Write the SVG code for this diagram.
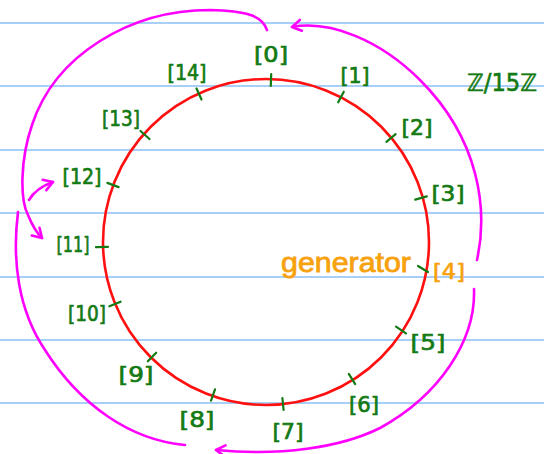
<svg xmlns="http://www.w3.org/2000/svg" width="544" height="454" viewBox="0 0 544 454">
<style>
.rule{stroke:#a8cff7;stroke-width:2}
.ring{fill:none;stroke:#ff1010;stroke-width:2.6}
.tick{stroke:#137a13;stroke-width:2.2;stroke-linecap:round}
.lbl{font-family:"DejaVu Sans",sans-serif;font-size:22px;fill:#137a13;stroke:#137a13;stroke-width:0.7;text-anchor:middle;dominant-baseline:central}
.orb{fill:none;stroke:#ff00ff;stroke-width:2.6;stroke-linecap:round}
.org{fill:#f7a10d;stroke:#f7a10d}
</style>
<defs>
<marker id="ah" markerUnits="userSpaceOnUse" viewBox="-12 -8 14 16" refX="0" refY="0" markerWidth="14" markerHeight="16" orient="auto" overflow="visible">
<path d="M-9,-5.5 L0,0 L-9,5.5" fill="none" stroke="#ff00ff" stroke-width="2.6" stroke-linecap="round" stroke-linejoin="round"/>
</marker>
</defs>
<rect width="544" height="454" fill="#ffffff"/>
<g id="rules">
<line class="rule" x1="0" y1="23" x2="544" y2="23"/>
<line class="rule" x1="0" y1="86" x2="544" y2="86"/>
<line class="rule" x1="0" y1="150" x2="544" y2="150"/>
<line class="rule" x1="0" y1="213" x2="544" y2="213"/>
<line class="rule" x1="0" y1="277" x2="544" y2="277"/>
<line class="rule" x1="0" y1="340" x2="544" y2="340"/>
<line class="rule" x1="0" y1="403" x2="544" y2="403"/>
</g>
<g id="ring">
<circle class="ring" cx="266" cy="242" r="163"/>
</g>
<g id="n0"><line class="tick" x1="271.2" y1="74" x2="270.8" y2="86"/><text class="lbl" x="271" y="54" textLength="34" lengthAdjust="spacingAndGlyphs">[0]</text></g>
<g id="n1"><line class="tick" x1="343.8" y1="91.7" x2="338.2" y2="102.3"/><text class="lbl" x="355" y="75" textLength="29" lengthAdjust="spacingAndGlyphs">[1]</text></g>
<g id="n2"><line class="tick" x1="395.6" y1="134.2" x2="386.4" y2="141.8"/><text class="lbl" x="417" y="127" textLength="31" lengthAdjust="spacingAndGlyphs">[2]</text></g>
<g id="n3"><line class="tick" x1="426.8" y1="196.4" x2="415.2" y2="199.6"/><text class="lbl" x="448" y="193" textLength="33" lengthAdjust="spacingAndGlyphs">[3]</text></g>
<g id="n4"><line class="tick" x1="428" y1="272" x2="418" y2="266" stroke="#f7a10d" stroke-width="2.2" stroke-linecap="round"/><text class="lbl" x="449" y="271" textLength="32" lengthAdjust="spacingAndGlyphs" style="fill:#f7a10d;stroke:#f7a10d">[4]</text></g>
<g id="n5"><line class="tick" x1="406" y1="333.3" x2="396" y2="326.7"/><text class="lbl" x="428" y="342" textLength="35" lengthAdjust="spacingAndGlyphs">[5]</text></g>
<g id="n6"><line class="tick" x1="355.2" y1="384.1" x2="348.8" y2="373.9"/><text class="lbl" x="364" y="404" textLength="30" lengthAdjust="spacingAndGlyphs">[6]</text></g>
<g id="n7"><line class="tick" x1="283.6" y1="410" x2="282.4" y2="398"/><text class="lbl" x="288" y="431" textLength="31" lengthAdjust="spacingAndGlyphs">[7]</text></g>
<g id="n8"><line class="tick" x1="211" y1="400.7" x2="215" y2="389.3"/><text class="lbl" x="197" y="419" textLength="35" lengthAdjust="spacingAndGlyphs">[8]</text></g>
<g id="n9"><line class="tick" x1="147.8" y1="361.3" x2="156.2" y2="352.7"/><text class="lbl" x="136" y="374" textLength="35" lengthAdjust="spacingAndGlyphs">[9]</text></g>
<g id="n10"><line class="tick" x1="109.4" y1="306.3" x2="120.6" y2="301.7"/><text class="lbl" x="87" y="313" textLength="38" lengthAdjust="spacingAndGlyphs">[10]</text></g>
<g id="n11"><line class="tick" x1="96" y1="247.2" x2="108" y2="246.8"/><text class="lbl" x="73" y="244" textLength="33" lengthAdjust="spacingAndGlyphs">[11]</text></g>
<g id="n12"><line class="tick" x1="107.4" y1="182.9" x2="118.6" y2="187.1"/><text class="lbl" x="82" y="176" textLength="39" lengthAdjust="spacingAndGlyphs">[12]</text></g>
<g id="n13"><line class="tick" x1="140.5" y1="131" x2="149.5" y2="139"/><text class="lbl" x="121" y="118" textLength="38" lengthAdjust="spacingAndGlyphs">[13]</text></g>
<g id="n14"><line class="tick" x1="196.5" y1="88.5" x2="201.5" y2="99.5"/><text class="lbl" x="187" y="72" textLength="39" lengthAdjust="spacingAndGlyphs">[14]</text></g>
<g id="title"><text x="502" y="83" font-family="DejaVu Sans, sans-serif" font-size="24" fill="#137a13" stroke="#137a13" stroke-width="0.6" text-anchor="middle" dominant-baseline="central" textLength="70" lengthAdjust="spacingAndGlyphs">ℤ/15ℤ</text></g>
<g id="generator"><text class="org" x="346" y="272" font-family="Liberation Sans, sans-serif" font-size="28" stroke-width="0.8" text-anchor="middle" textLength="130" lengthAdjust="spacingAndGlyphs">generator</text></g>
<g id="connectors">
<path class="orb" d="M267,30 C262,15 245,11 210,10 C130,10 55,55 32,125 C20,160 20,200 28,215 C32,225 36,232 42,238" marker-end="url(#ah)"/>
<path class="orb" d="M29,200 Q36,188 53,182" marker-end="url(#ah)"/>
<path class="orb" d="M18,212 C12,260 18,310 45,350 C80,405 130,440 185,445"/>
<path class="orb" d="M474,289 C476,340 440,395 380,428 C340,448 280,456 216,450" marker-end="url(#ah)"/>
<path class="orb" d="M477,260 C488,210 480,140 420,80 C380,40 330,20 292,27" marker-end="url(#ah)"/>
</g>
</svg>
